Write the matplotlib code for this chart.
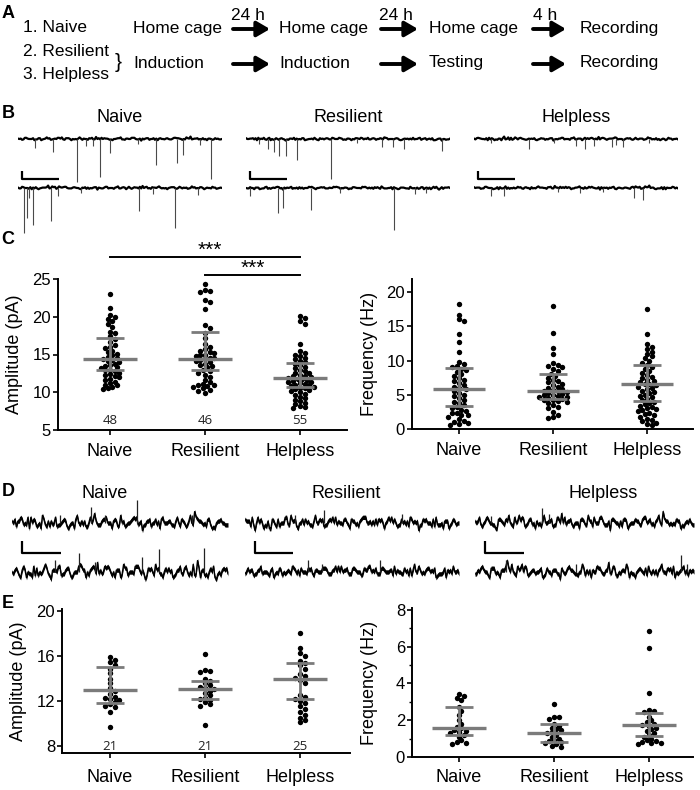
import numpy as np
import matplotlib.pyplot as plt

plt.rcParams['font.family'] = ['Liberation Sans', 'DejaVu Sans']

W, H = 700, 790
GRAY = '#7b7b7b'

groups = ['Naive', 'Resilient', 'Helpless']

# A: protocol
cohorts = ['1. Naive', '2. Resilient', '3. Helpless']
control_steps = ['Home cage', 'Home cage', 'Home cage', 'Recording']
stress_steps = ['Induction', 'Induction', 'Testing', 'Recording']
intervals = ['24 h', '24 h', '4 h']

# B: example mEPSC traces, events as (position along sweep, depth)
b_naive_top = [(0.289, 43), (0.402, 38), (0.172, 13), (0.676, 26), (0.779, 24), (0.809, 16),
               (0.946, 40), (0.451, 14), (0.083, 9), (0.333, 7), (0.368, 7), (0.59, 5), (0.89, 6)]
b_naive_bot = [(0.029, 45), (0.044, 30), (0.074, 37), (0.162, 33), (0.593, 23), (0.77, 40),
               (0.054, 10), (0.196, 8), (0.31, 5), (0.66, 6), (0.88, 7)]
b_res_top = [(0.109, 10), (0.135, 13), (0.164, 17), (0.196, 17), (0.251, 21), (0.415, 40),
             (0.666, 8), (0.72, 8), (0.775, 10), (0.96, 12), (0.066, 5), (0.546, 4)]
b_res_bot = [(0.157, 25), (0.181, 20), (0.317, 22), (0.725, 42), (0.022, 8), (0.46, 5),
             (0.83, 6), (0.884, 5)]
b_help_top = [(0.27, 10), (0.5, 7), (0.544, 10), (0.588, 7), (0.675, 8), (0.697, 6),
              (0.73, 8), (0.083, 4), (0.39, 4), (0.86, 4)]
b_help_bot = [(0.083, 8), (0.149, 8), (0.785, 10), (0.829, 12), (0.41, 4), (0.52, 5), (0.63, 4)]

# D: example traces, baseline fluctuation and upward events (position, height)
d_naive_top_noise = [1, -2, 3, 0, -3, 2, -1, 4, -2, 1, 3, -1, 2, -3, 0, 4, 1, -2, 3, 5, -1, 2, 0, -3, 1,
                     4, -2, 0, 3, -1, -4, 1, -2, 2, -3, 0, 1, -1, 3, 2, -2, 4, 6, 1, -1, 2, -3, 0, 2, -1]
d_naive_bot_noise = [0, 2, -3, 1, -1, 3, -2, 0, 2, -4, 1, 3, -1, 2, -2, 0, 3, -3, 1, 2, -1, 0, 3, -2, 1,
                     -3, 2, 0, -1, 3, 1, -2, 2, 4, -1, 0, 2, -3, 1, -1, 3, 0, -2, 2, 1, -3, 0, -4, -2, 1]
d_res_top_noise = [2, 1, -1, 3, 0, -2, -3, -1, -2, 0, -1, 1, -2, 0, 2, -1, 1, 0, 2, -1, 1, 3, 0, 2, -1,
                   1, 0, 2, 3, 1, -1, 2, 0, 1, 3, 0, -1, 1, -2, 0, 1, -1, 2, 0, -2, -1, -3, 1, 0, -1]
d_res_bot_noise = [-1, 0, -2, 1, -1, 0, 1, -1, 2, 0, 1, 3, -1, 2, 0, 1, -2, 0, 2, 1, -1, 3, 0, 1, -1,
                   2, 0, -2, 1, 3, 0, -1, 2, 0, 1, -1, 0, 2, -2, 1, 0, -1, 1, 0, 2, -1, 0, 1, -1, 0]
d_help_top_noise = [1, 3, 0, 2, -1, -3, 1, 2, 0, 3, 4, 2, 0, -1, 1, -2, 0, 1, -1, 2, 0, 1, -1, 0, 2,
                    -1, 1, 3, 0, 1, -1, 2, 0, 1, 2, -1, 0, 1, 2, 0, -1, 1, 0, 2, -1, 0, 1, -1, 1, 0]
d_help_bot_noise = [-1, 0, 1, -2, 2, 0, 1, 3, 0, -1, 1, 0, -2, 1, 0, 2, -1, 0, 1, -1, 0, 2, 1, -1, 0,
                    -2, 1, 0, 2, -1, 1, 0, -2, -1, 0, -3, -1, 1, 0, -2, -1, 1, 2, 0, 1, 3, -1, 2, 1, 0]
d_naive_top = [(0.366, 16), (0.579, 23), (0.833, 8), (0.22, 8), (0.43, 8)]
d_naive_bot = [(0.31, 19), (0.602, 15), (0.68, 23), (0.889, 24), (0.2, 12), (0.385, 10)]
d_res_top = [(0.369, 13), (0.233, 8), (0.733, 9)]
d_res_bot = [(0.296, 12), (0.629, 12), (0.358, 8)]
d_help_top = [(0.306, 15), (0.337, 9), (0.071, 7)]
d_help_bot = [(0.143, 12), (0.459, 8), (0.939, 17), (0.97, 8)]

# C: mEPSC amplitude (pA) and frequency (Hz)
amp_c_naive = [23.0, 21.1, 20.2, 20.0, 19.7, 19.4, 19.0, 18.6, 18.0, 17.8, 17.4, 17.0, 16.6, 16.3, 16.0,
               15.8, 15.5, 15.3, 15.1, 14.9, 14.7, 14.5, 14.4, 14.3, 14.1, 14.0, 13.8, 13.6, 13.5, 13.3,
               13.2, 13.0, 12.9, 12.8, 12.6, 12.4, 12.3, 12.1, 12.0, 11.8, 11.6, 11.4, 11.2, 11.0, 10.9,
               10.7, 10.5, 10.4]
amp_c_res = [24.3, 23.5, 23.4, 23.3, 22.2, 22.0, 21.0, 18.9, 18.5, 17.9, 17.2, 16.4, 16.0, 15.7, 15.5,
             15.3, 15.2, 15.0, 14.9, 14.8, 14.6, 14.5, 14.4, 14.3, 14.2, 14.0, 13.8, 13.6, 13.5, 13.3,
             13.0, 12.8, 12.6, 12.3, 12.0, 11.6, 11.3, 11.1, 11.0, 10.9, 10.8, 10.7, 10.5, 10.3, 10.1, 9.9]
amp_c_help = [20.1, 19.8, 19.5, 19.1, 16.4, 15.4, 15.2, 15.0, 14.8, 14.6, 14.4, 14.2, 14.0, 13.8, 13.6,
              13.4, 13.2, 13.0, 12.8, 12.6, 12.5, 12.3, 12.2, 12.1, 12.0, 11.9, 11.8, 11.7, 11.6, 11.5,
              11.4, 11.3, 11.2, 11.1, 11.0, 10.9, 10.8, 10.7, 10.6, 10.5, 10.4, 10.3, 10.1, 10.0, 9.8,
              9.6, 9.4, 9.2, 9.0, 8.8, 8.6, 8.4, 8.2, 8.0, 7.9]
freq_c_naive = [18.2, 16.7, 16.0, 15.8, 13.9, 12.7, 11.2, 9.8, 9.5, 9.2, 9.0, 8.8, 8.6, 8.3, 8.0, 7.7,
                7.4, 7.2, 7.0, 6.7, 6.4, 6.2, 6.0, 5.8, 5.5, 5.2, 5.0, 4.8, 4.5, 4.3, 4.0, 3.8, 3.5, 3.2,
                3.0, 2.8, 2.6, 2.4, 2.3, 2.1, 2.0, 1.8, 1.5, 1.2, 1.0, 0.9, 0.7, 0.6]
freq_c_res = [18.0, 14.0, 11.8, 11.0, 9.6, 9.4, 9.2, 9.0, 8.7, 8.4, 8.1, 7.8, 7.5, 7.2, 7.0, 6.8, 6.6,
              6.4, 6.2, 6.0, 5.8, 5.7, 5.6, 5.5, 5.4, 5.2, 5.1, 5.0, 4.9, 4.8, 4.7, 4.6, 4.5, 4.4, 4.3,
              4.2, 4.1, 4.0, 3.8, 3.5, 3.2, 3.0, 2.5, 2.1, 1.8, 1.6]
freq_c_help = [17.5, 13.9, 12.4, 12.0, 11.7, 11.3, 10.9, 10.6, 10.3, 10.0, 9.7, 9.4, 9.1, 8.8, 8.5, 8.2,
               7.9, 7.6, 7.4, 7.2, 7.0, 6.8, 6.6, 6.5, 6.4, 6.2, 6.0, 5.8, 5.6, 5.4, 5.2, 5.0, 4.8, 4.6,
               4.4, 4.2, 4.0, 3.8, 3.6, 3.4, 3.2, 3.0, 2.9, 2.8, 2.6, 2.4, 2.2, 2.0, 1.8, 1.5, 1.3, 1.1,
               0.9, 0.8, 0.6]
n_c = [48, 46, 55]
amp_c_mid = [14.35, 14.4, 11.85]
amp_c_lo = [12.9, 12.9, 10.75]
amp_c_hi = [17.15, 18.0, 13.85]
freq_c_mid = [5.85, 5.6, 6.55]
freq_c_lo = [3.35, 4.45, 4.05]
freq_c_hi = [8.85, 8.1, 9.3]

# E: mIPSC amplitude (pA) and frequency (Hz)
amp_e_naive = [15.9, 15.7, 15.5, 15.2, 14.9, 14.5, 14.0, 13.6, 13.2, 12.9, 12.6, 12.4, 12.3, 12.2, 12.1,
               11.9, 11.7, 11.6, 11.5, 11.0, 9.7]
amp_e_res = [16.2, 14.8, 14.7, 14.6, 14.0, 13.8, 13.6, 13.4, 13.3, 13.2, 13.1, 12.9, 12.7, 12.5, 12.3,
             12.2, 12.1, 11.9, 11.7, 11.6, 9.9]
amp_e_help = [18.1, 16.7, 16.3, 16.0, 15.6, 15.4, 15.2, 14.9, 14.4, 14.2, 14.1, 13.9, 13.6, 12.5, 12.4,
              12.2, 12.0, 11.8, 11.6, 11.3, 11.0, 10.8, 10.5, 10.3, 10.1]
freq_e_naive = [3.4, 3.3, 3.2, 3.1, 2.7, 2.5, 2.3, 2.0, 1.8, 1.65, 1.55, 1.45, 1.4, 1.35, 1.3, 1.2, 1.1,
                0.9, 0.8, 0.75, 0.7]
freq_e_res = [2.9, 2.2, 2.15, 2.05, 1.8, 1.7, 1.6, 1.5, 1.45, 1.35, 1.3, 1.2, 1.1, 1.0, 0.9, 0.85, 0.8,
              0.75, 0.7, 0.6, 0.55]
freq_e_help = [6.85, 5.95, 3.5, 2.55, 2.5, 2.45, 2.2, 2.0, 1.9, 1.8, 1.75, 1.7, 1.6, 1.5, 1.4, 1.3, 1.2,
               1.1, 1.0, 0.9, 0.85, 0.8, 0.78, 0.75, 0.7]
n_e = [21, 21, 25]
amp_e_mid = [13.0, 13.07, 14.0]
amp_e_lo = [11.82, 12.15, 12.15]
amp_e_hi = [15.08, 13.78, 15.38]
freq_e_mid = [1.55, 1.31, 1.73]
freq_e_lo = [1.22, 0.82, 1.15]
freq_e_hi = [2.73, 1.82, 2.4]


fig = plt.figure(figsize=(W / 100, H / 100), dpi=100)


def px_axes(l, t, r, b):
    ax = fig.add_axes([l / W, 1 - b / H, (r - l) / W, (b - t) / H])
    ax.set_facecolor('none')
    return ax


def texture(a, b, c):
    # dense baseline made by interleaving three of the hand-read noise lists
    return np.ravel(np.column_stack([a, b[::-1], c]))


# overlay in pixel units for panel A and headings
ov = px_axes(0, 0, W, H)
ov.set_xlim(0, W)
ov.set_ylim(H, 0)
ov.axis('off')

for letter, (lx, ly) in zip('ABCDE', [(8, 13), (8, 113), (8, 239), (8, 491), (8, 603)]):
    ov.text(lx, ly, letter, fontsize=13, fontweight='bold', ha='center', va='center')

fs_a = 12.5
ov.text(23, 28, cohorts[0], fontsize=fs_a, va='center')
ov.text(23, 52, cohorts[1], fontsize=fs_a, va='center')
ov.text(23, 75, cohorts[2], fontsize=fs_a, va='center')
ov.text(118, 63, '}', fontsize=15, ha='center', va='center')
col_x = [133, 279, 429, 580]
arrow_x = [(233, 270), (381, 418), (533, 566)]
for i in range(4):
    ov.text(col_x[i], 28, control_steps[i], fontsize=fs_a, va='center')
    ov.text(col_x[i], 63, stress_steps[i], fontsize=fs_a, va='center')
for (x0, x1), lab in zip(arrow_x, intervals):
    for y in (29, 64):
        ov.annotate('', xy=(x1, y), xytext=(x0, y),
                    arrowprops=dict(arrowstyle='-|>,head_length=0.6,head_width=0.35',
                                    lw=2.8, color='black', shrinkA=0, shrinkB=0,
                                    mutation_scale=13))
    ov.text((x0 + x1) / 2 - 4, 15, lab, fontsize=fs_a, ha='center', va='center')


def sweep(ax, noise, events, base, up=False, scale=1.0, band=0.0, lw=1.2):
    t = np.linspace(0, 1, len(noise))
    y = base + scale * np.asarray(noise, dtype=float)
    if band:
        ax.fill_between(t, y - band, y + band, color='black', lw=0)
    ax.plot(t, y, color='black', lw=lw)
    for et, h in events:
        if up:
            ax.vlines(et, base, base + h, color='#222222', lw=0.9)
        else:
            ax.vlines(et, base, base - h, color='#4a4a4a', lw=0.8)


# B traces
b_cols = [(18, 222, 120), (246, 450, 348), (474, 678, 576)]
b_sets = [(b_naive_top, b_naive_bot), (b_res_top, b_res_bot), (b_help_top, b_help_bot)]
b_tex = [(d_naive_top_noise, d_res_bot_noise, d_help_top_noise),
         (d_res_top_noise, d_help_bot_noise, d_naive_bot_noise),
         (d_help_top_noise, d_naive_top_noise, d_res_top_noise)]
for (l, r, cx), (ev1, ev2), (n1, n2, n3), name in zip(b_cols, b_sets, b_tex, groups):
    ov.text(cx, 117, name, fontsize=13, ha='center', va='center')
    ax = px_axes(l, 125, r, 235)
    ax.set_xlim(0, 1)
    ax.set_ylim(-96, 14)
    ax.axis('off')
    sweep(ax, texture(n1, n2, n3), ev1, 0, scale=0.4, lw=1.6)
    sweep(ax, texture(n3, n1, n2), ev2, -49, scale=0.4, lw=1.6)
    ax.plot([0.02, 0.02, 0.2], [-32, -40, -40], color='black', lw=1.6, solid_capstyle='butt')

# D traces
d_cols = [(12, 228, 105), (245, 459, 346), (475, 694, 603)]
d_sets = [(d_naive_top, d_naive_bot), (d_res_top, d_res_bot), (d_help_top, d_help_bot)]
d_tex = [(d_naive_top_noise, d_help_bot_noise, d_res_top_noise, d_naive_bot_noise),
         (d_res_top_noise, d_naive_bot_noise, d_help_top_noise, d_res_bot_noise),
         (d_help_top_noise, d_res_bot_noise, d_naive_top_noise, d_help_bot_noise)]
for (l, r, cx), (ev1, ev2), (n1, n2, n3, n4), name in zip(d_cols, d_sets, d_tex, groups):
    ov.text(cx, 493, name, fontsize=13, ha='center', va='center')
    ax = px_axes(l, 500, r, 592)
    ax.set_xlim(0, 1)
    ax.set_ylim(-69, 23)
    ax.axis('off')
    sweep(ax, texture(n1, n2, n3), ev1, 0, up=True, scale=1.9, band=2.2, lw=1.0)
    sweep(ax, texture(n4, n3, n1), ev2, -49, up=True, scale=1.9, band=2.2, lw=1.0)
    ax.plot([0.045, 0.045, 0.225], [-18, -30, -30], color='black', lw=1.6, solid_capstyle='butt')


def swarm(vals, ppu_x, ppu_y, d=4.3, step=2.3):
    vals = np.asarray(vals, dtype=float)
    ys = vals * ppu_y
    placed = []
    offs = np.zeros(len(vals))
    cands = [0.0]
    for j in range(1, 12):
        cands += [j * step, -j * step]
    for k in np.argsort(-vals):
        for c in cands:
            if all((c - px) ** 2 + (ys[k] - py) ** 2 >= d * d for px, py in placed):
                break
        placed.append((c, ys[k]))
        offs[k] = c
    return offs / ppu_x


def dot_panel(box, data, mid, lo, hi, ylim, yticks, ylabel, xlim, ns=None, n_y=None,
              minor=None, xpad=5):
    l, t, r, b = box
    ax = px_axes(l, t, r, b)
    ax.set_xlim(xlim)
    ax.set_ylim(ylim)
    ppu_x = (r - l) / (xlim[1] - xlim[0])
    ppu_y = (b - t) / (ylim[1] - ylim[0])
    for i, vals in enumerate(data):
        off = swarm(vals, ppu_x, ppu_y)
        ax.scatter(i + off, vals, s=15, color='black', lw=0, zorder=2, clip_on=False)
        ax.hlines(mid[i], i - 0.28, i + 0.28, color=GRAY, lw=2.4, zorder=3)
        ax.hlines([lo[i], hi[i]], i - 0.15, i + 0.15, color=GRAY, lw=2.0, zorder=3)
        ax.vlines(i, lo[i], hi[i], color=GRAY, lw=2.0, zorder=3)
        if ns is not None:
            ax.text(i, n_y, str(ns[i]), fontsize=9.5, ha='center', va='center',
                    color='#222222', family=['Open Sans', 'DejaVu Sans'])
    for s in ('top', 'right'):
        ax.spines[s].set_visible(False)
    for s in ('left', 'bottom'):
        ax.spines[s].set_linewidth(1.4)
    ax.set_xticks(range(3))
    ax.set_xticklabels(groups, fontsize=13)
    ax.set_yticks(yticks)
    ax.set_yticklabels([str(v) for v in yticks], fontsize=12)
    if minor is not None:
        ax.set_yticks(minor, minor=True)
        ax.tick_params(axis='y', which='minor', length=2.5, width=1.0)
    ax.tick_params(axis='y', length=3.5, width=1.2, pad=1.5)
    ax.tick_params(axis='x', length=3.5, width=1.2, pad=xpad)
    ax.set_ylabel(ylabel, fontsize=13)
    ax.yaxis.set_label_coords(-0.12, 0.5)
    return ax


ax_ca = dot_panel((58, 279, 347, 430), [amp_c_naive, amp_c_res, amp_c_help],
                  amp_c_mid, amp_c_lo, amp_c_hi, (5, 25), [5, 10, 15, 20, 25],
                  'Amplitude (pA)', (-0.547, 2.495), ns=n_c, n_y=6.3, xpad=6)
ax_ca.plot([0, 2], [27.9, 27.9], color='black', lw=1.4, clip_on=False)
ax_ca.plot([1, 2], [25.5, 25.5], color='black', lw=1.4, clip_on=False)
ax_ca.text(1.05, 28.1, '***', fontsize=15, ha='center', va='baseline')
ax_ca.text(1.5, 25.7, '***', fontsize=15, ha='center', va='baseline')

dot_panel((412, 279, 693, 429), [freq_c_naive, freq_c_res, freq_c_help],
          freq_c_mid, freq_c_lo, freq_c_hi, (0, 21.9), [0, 5, 10, 15, 20],
          'Frequency (Hz)', (-0.5, 2.489), xpad=6)

dot_panel((62, 609, 350, 753), [amp_e_naive, amp_e_res, amp_e_help],
          amp_e_mid, amp_e_lo, amp_e_hi, (7.38, 20.2), [8, 12, 16, 20],
          'Amplitude (pA)', (-0.505, 2.526), ns=n_e, n_y=8.0, xpad=8)

dot_panel((412, 608, 693, 757), [freq_e_naive, freq_e_res, freq_e_help],
          freq_e_mid, freq_e_lo, freq_e_hi, (0, 8.1), [0, 2, 4, 6, 8],
          'Frequency (Hz)', (-0.495, 2.463), minor=[1, 3, 5, 7])

fig.savefig('out.png', dpi=100)
